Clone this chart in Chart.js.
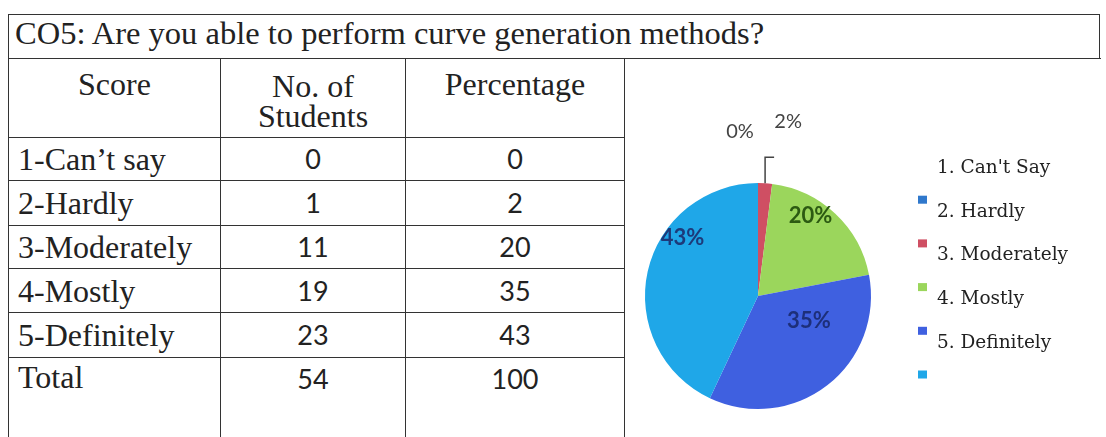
<!DOCTYPE html>
<html>
<head>
<meta charset="utf-8">
<script src="https://cdn.jsdelivr.net/npm/chart.js@4/dist/chart.umd.min.js"></script>
<style>
  html, body { margin: 0; padding: 0; background: #fff; }
  body { width: 1106px; height: 437px; position: relative; overflow: hidden; }
  .title {
    position: absolute; left: 8px; top: 14px; width: 1092px; height: 45px;
    border: 1.5px solid #333; border-bottom: none; box-sizing: border-box;
    font-family: "Liberation Serif", serif; font-size: 32.5px; line-height: 36px;
    padding-left: 6px; color: #222; white-space: nowrap;
  }
  table {
    position: absolute; left: 8px; top: 58px; border-collapse: collapse; table-layout: fixed;
    font-family: "Liberation Serif", serif; color: #222;
  }
  td { border: 1.5px solid #333; padding: 0; vertical-align: middle; overflow: hidden; white-space: nowrap; }
  td.lbl { font-size: 32px; padding-left: 9px; line-height: 36px; }
  td.num { font-family: Lato, sans-serif; font-size: 27px; text-align: center; line-height: 32px; }
  td.head { font-size: 32px; text-align: center; vertical-align: top; }
  td.pie { border-right: none; border-bottom: none; }
  #chartBox { position: absolute; left: 625px; top: 59px; width: 474px; height: 378px; }
</style>
</head>
<body>
<div class="title">CO5: Are you able to perform curve generation methods?</div>
<table id="tbl"></table>
<div id="chartBox"><canvas id="pieChart" width="474" height="378"></canvas></div>
<script>
const scores = ["1-Can\u2019t say", "2-Hardly", "3-Moderately", "4-Mostly", "5-Definitely"];
const students = [0, 1, 11, 19, 23];
const percentages = [0, 2, 20, 35, 43];
const totalStudents = 54;
const totalPercent = 100;
const legendLabels = ["1. Can't Say", "2. Hardly", "3. Moderately", "4. Mostly", "5. Definitely"];
const sliceColors = ["#2f78cc", "#cf4f63", "#9bd65c", "#3f60e0", "#1fa7e8"];
const labelColors = ["#444", "#444", "#2c5a12", "#1d2f7a", "#1d3a7a"];
// where each inside label sits: fraction along the slice, fraction of radius
const labelAnchor = [null, null, [0.36, 0.85], [0.29, 0.5], [0.66, 0.84]];

// build the table
const tbl = document.getElementById("tbl");
const colW = [212, 185, 219, 476];
const rowH = [43, 45, 43, 44, 45];
let html = "<colgroup>" + colW.map(w => '<col style="width:' + w + 'px">').join("") + "</colgroup>";
html += '<tr style="height:79px"><td class="head" style="padding-top:7px;line-height:36px">Score</td>' +
  '<td class="head" style="padding-top:12px;line-height:30px">No. of<br>Students</td>' +
  '<td class="head" style="padding-top:7px;line-height:36px">Percentage</td><td class="pie" rowspan="7"></td></tr>';
scores.forEach((s, i) => {
  html += '<tr style="height:' + rowH[i] + 'px"><td class="lbl">' + s + '</td><td class="num">' + students[i] +
    '</td><td class="num">' + percentages[i] + '</td></tr>';
});
html += '<tr style="height:84px"><td class="lbl" style="vertical-align:top;padding-top:1px">Total</td>' +
  '<td class="num" style="vertical-align:top;padding-top:5px">' + totalStudents + '</td>' +
  '<td class="num" style="vertical-align:top;padding-top:5px">' + totalPercent + '</td></tr>';
tbl.innerHTML = html;

const labelPlugin = {
  id: "pieLabels",
  afterDatasetsDraw(chart) {
    const c = chart.ctx;
    const arcs = chart.getDatasetMeta(0).data;
    c.save();
    c.textAlign = "center";
    c.textBaseline = "middle";
    arcs.forEach((arc, i) => {
      const r = arc.outerRadius;
      const v = percentages[i];
      c.fillStyle = labelColors[i];
      if (!labelAnchor[i]) {
        // outside labels with leader
        c.font = "20px Lato, sans-serif";
        const mid = (arc.startAngle + arc.endAngle) / 2;
        const ex = arc.x + Math.cos(mid) * r;
        const ey = arc.y + Math.sin(mid) * r;
        if (i === 1) {
          c.strokeStyle = "#444";
          c.lineWidth = 1.5;
          c.beginPath();
          c.moveTo(ex, ey);
          c.lineTo(ex, ey - 26);
          c.lineTo(ex + 9, ey - 26);
          c.stroke();
          c.fillText(v + "%", ex + 23, ey - 62);
        } else {
          c.fillText(v + "%", ex - 18, ey - 51);
        }
      } else {
        c.font = "bold 22px Lato, sans-serif";
        const [t, f] = labelAnchor[i];
        const a = arc.startAngle + t * (arc.endAngle - arc.startAngle);
        c.fillText(v + "%", arc.x + Math.cos(a) * r * f, arc.y + Math.sin(a) * r * f);
      }
    });
    c.restore();
  }
};

const legendPlugin = {
  id: "skewLegend",
  afterDraw(chart) {
    const c = chart.ctx;
    const x0 = 312, y0 = 109, step = 43.7;
    c.save();
    c.font = "18.5px 'DejaVu Serif', serif";
    c.fillStyle = "#222";
    c.textBaseline = "middle";
    legendLabels.forEach((t, i) => c.fillText(t, x0, y0 + i * step));
    chart.data.datasets[0].backgroundColor.forEach((col, i) => {
      c.fillStyle = col;
      c.fillRect(x0 - 19, y0 + (i + 1) * step - 16, 9, 8);
    });
    c.restore();
  }
};

new Chart(document.getElementById("pieChart"), {
  type: "pie",
  data: {
    labels: legendLabels,
    datasets: [{
      data: percentages,
      backgroundColor: sliceColors,
      borderWidth: 0
    }]
  },
  options: {
    responsive: false,
    animation: false,
    layout: { padding: { left: 20, right: 228, top: 124, bottom: 28 } },
    plugins: { legend: { display: false }, tooltip: { enabled: false } }
  },
  plugins: [labelPlugin, legendPlugin]
});
</script>
</body>
</html>
